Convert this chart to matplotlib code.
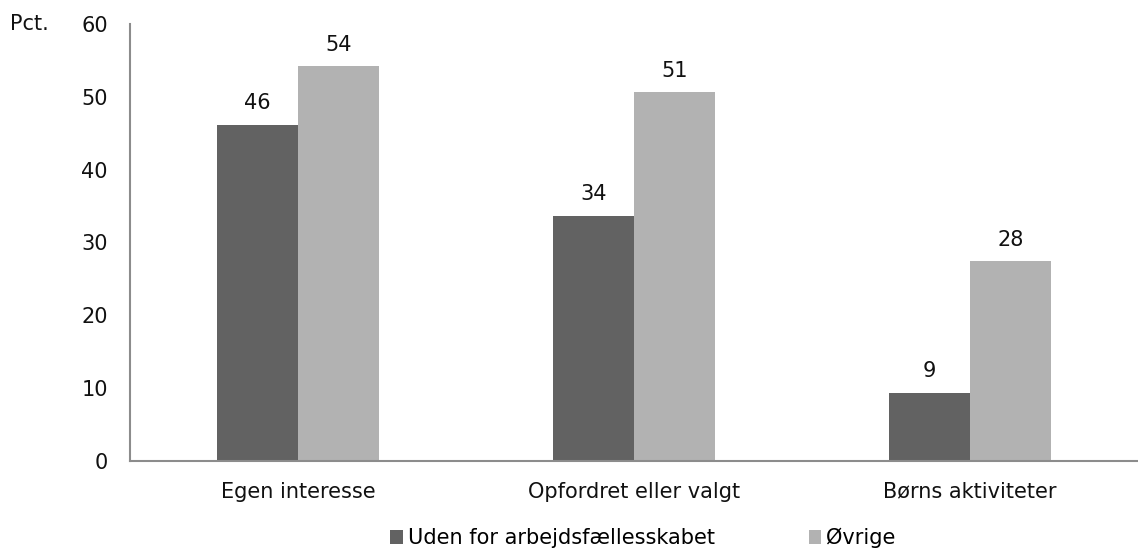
import matplotlib.pyplot as plt
import numpy as np

categories = ['Egen interesse', 'Opfordret eller valgt', 'Børns aktiviteter']
series_names = ['Uden for arbejdsfællesskabet', 'Øvrige']
uden = [46.2, 33.7, 9.4]
ovrige = [54.2, 50.7, 27.4]
uden_labels = ['46', '34', '9']
ovrige_labels = ['54', '51', '28']

plt.rcParams['font.family'] = ['DejaVu Sans']
fs = 15

fig = plt.figure(figsize=(11.38, 5.48), dpi=100)
ax = fig.add_axes([0.1142, 0.1588, 0.8858, 0.7974])

x = np.arange(len(categories))
w = 0.24
b1 = ax.bar(x - w / 2, uden, w, color='#626262', label=series_names[0])
b2 = ax.bar(x + w / 2, ovrige, w, color='#b2b2b2', label=series_names[1])

for bars, labs in ((b1, uden_labels), (b2, ovrige_labels)):
    for rect, lab in zip(bars, labs):
        ax.annotate(lab, (rect.get_x() + rect.get_width() / 2, rect.get_height()),
                    xytext=(0, 8), textcoords='offset points',
                    ha='center', va='bottom', fontsize=fs, color='#111111')

ax.set_xlim(-0.5, 2.5)
ax.set_ylim(0, 60)
ax.set_yticks(range(0, 61, 10))
ax.set_xticks(x)
ax.set_xticklabels(categories)
ax.tick_params(axis='both', length=0, labelsize=fs, colors='#111111')
ax.tick_params(axis='y', pad=16)
ax.tick_params(axis='x', pad=15)
for s in ('top', 'right'):
    ax.spines[s].set_visible(False)
for s in ('left', 'bottom'):
    ax.spines[s].set_color('#8c8c8c')
    ax.spines[s].set_linewidth(1.5)

fig.text(0.009, 0.956, 'Pct.', fontsize=fs, va='center', ha='left', color='#111111')

fig.legend(loc='center', bbox_to_anchor=(0.565, 0.018), ncol=2, frameon=False,
           fontsize=fs, handlelength=0.6, handleheight=0.6, handletextpad=0.25,
           columnspacing=4.5)

fig.savefig('out.png', dpi=100)
